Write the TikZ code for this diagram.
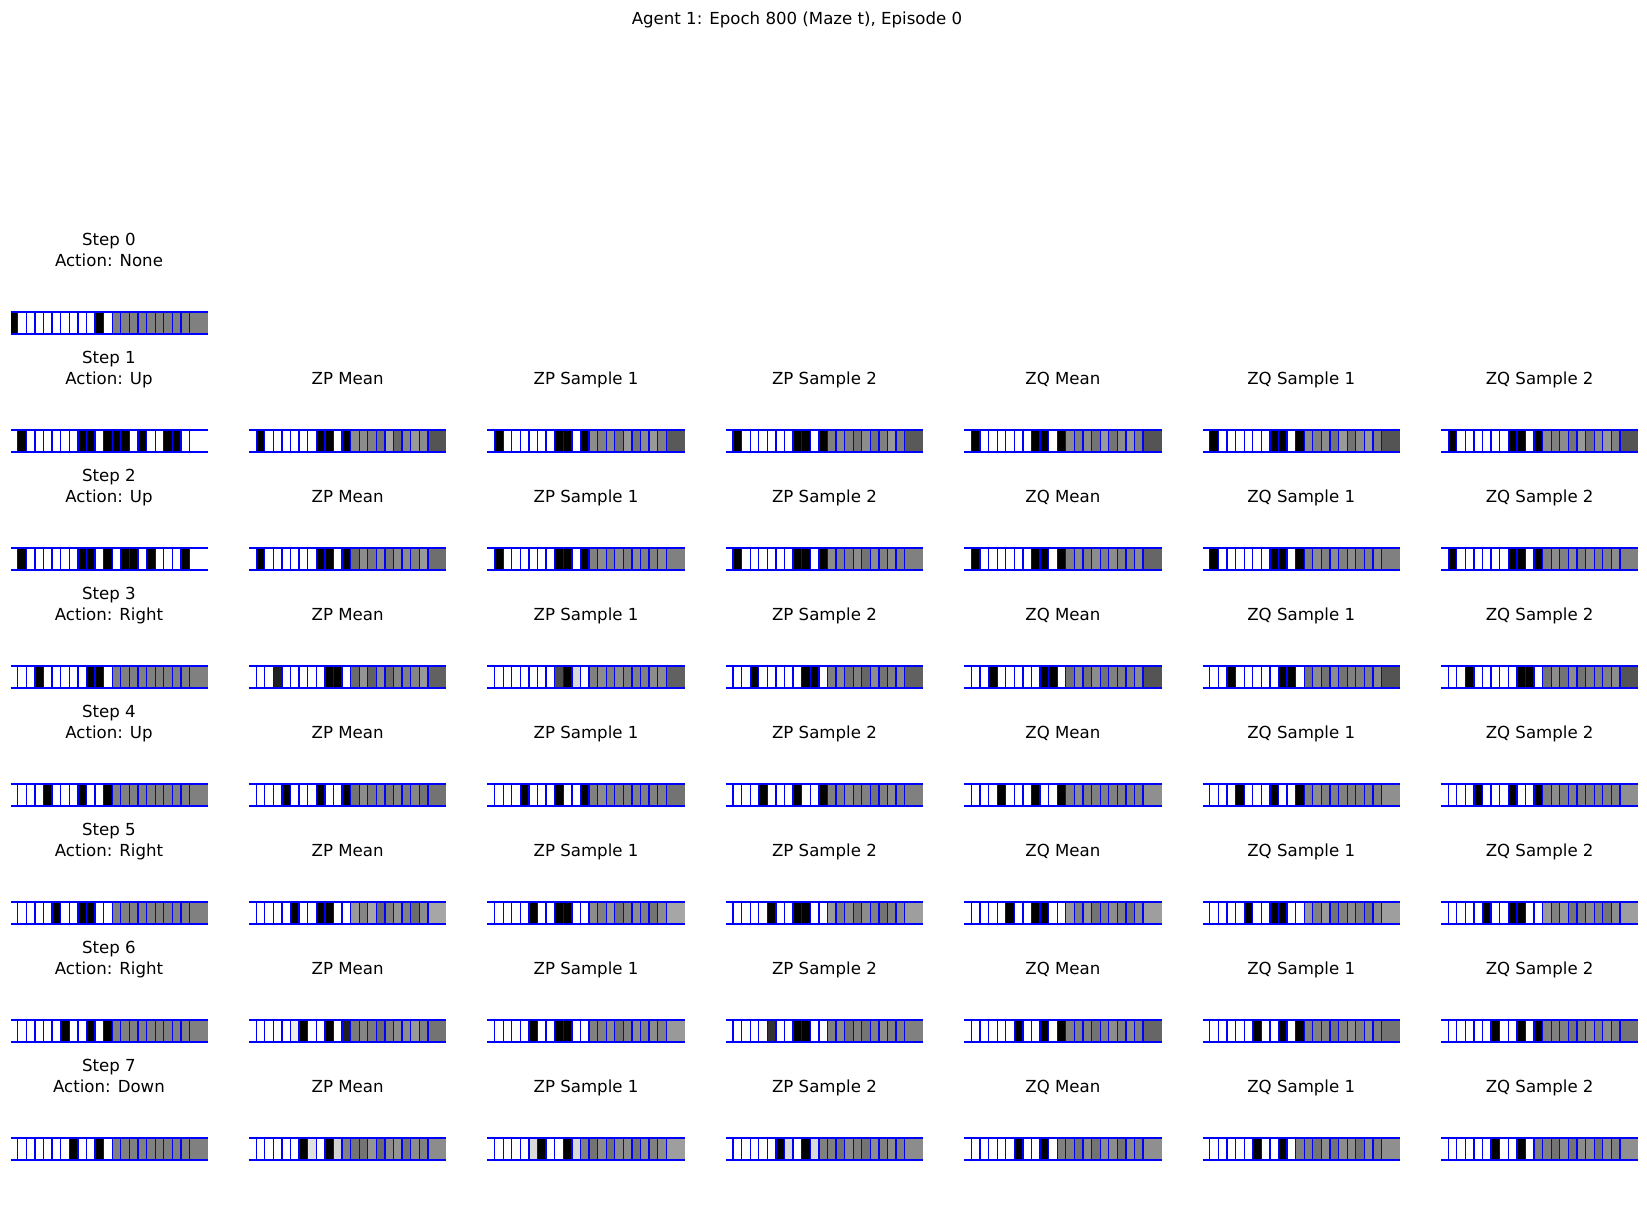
\documentclass[tikz,border=0pt]{standalone}
\usepackage{fontspec}
\setmainfont{DejaVu Sans}
\tikzset{
  ttl/.style={font=\fontsize{16.6}{20}\selectfont, anchor=base, inner sep=0pt},
  gridline/.style={draw=blue, line width=1.3pt},
}
\newcommand{\drawstrip}[3]{%
  \foreach \v [count=\i from 0] in {#3} {
    \pgfmathsetmacro{\xl}{#1 + (\i==0 ? 0 : 7.3+8.585*(\i-1))}
    \pgfmathsetmacro{\xr}{#1 + (\i==21 ? 197.5 : 7.3+8.585*\i)}
    \definecolor{cellc}{gray}{\v}
    \fill[cellc] (\xl,#2) rectangle (\xr,#2+22);
  }
  \foreach \i in {1,...,21} {
    \draw[gridline] ({#1+7.3+8.585*(\i-1)},#2) -- ++(0,22);
  }
  \draw[gridline] (#1,#2) -- ++(197.5,0) (#1,#2+22) -- ++(197.5,0);
}
% column x (left) and row y (top)
\newcommand{\cx}[1]{\fpeval{10.5+238.4*#1}}
\newcommand{\ry}[1]{\fpeval{312+118*#1}}
\newcommand{\st}[3]{\drawstrip{\cx{#1}}{\ry{#2}}{#3}}
\begin{document}
\begin{tikzpicture}[x=1pt,y=-1pt]
\useasboundingbox (0,0) rectangle (1647,1208);
\fill[white] (0,0) rectangle (1647,1208);
\node[ttl] (title) at (797,24) {Agent 1: Epoch 800 (Maze t), Episode 0};
% row titles
\foreach \k/\a in {0/None,1/Up,2/Up,3/Right,4/Up,5/Right,6/Right,7/Down} {
  \node[ttl] (step\k) at (109,{312+118*\k-67}) {Step \k};
  \node[ttl] (act\k) at (109,{312+118*\k-46}) {Action: \a};
}
\foreach \k in {1,...,7} {
  \foreach \j/\t in {1/ZP Mean,2/ZP Sample 1,3/ZP Sample 2,4/ZQ Mean,5/ZQ Sample 1,6/ZQ Sample 2} {
    \node[ttl] (lab\k-\j) at ({10.5+238.4*\j+98.75},{312+118*\k-46}) {\t};
  }
}
% column 0: observations
\st{0}{0}{0,1,1,1,1,1,1,1,1,1,0,1,0.5,0.5,0.5,0.5,0.5,0.5,0.5,0.5,0.5,0.5}
\st{0}{1}{1,0,1,1,1,1,1,1,0,0,1,0,0,0,1,0,1,1,0,0,1,1}
\st{0}{2}{1,0,1,1,1,1,1,1,0,0,1,0,1,0,0,1,0,1,1,1,0,1}
\st{0}{3}{1,1,1,0,1,1,1,1,1,0,0,1,0.5,0.5,0.5,0.5,0.5,0.5,0.5,0.5,0.5,0.5}
\st{0}{4}{1,1,1,1,0,1,1,1,0,1,1,0,0.5,0.5,0.5,0.5,0.5,0.5,0.5,0.5,0.5,0.5}
\st{0}{5}{1,1,1,1,1,0,1,1,0,0,1,1,0.5,0.5,0.5,0.5,0.5,0.5,0.5,0.5,0.5,0.5}
\st{0}{6}{1,1,1,1,1,1,0,1,1,0,1,0,0.5,0.5,0.5,0.5,0.5,0.5,0.5,0.5,0.5,0.5}
\st{0}{7}{1,1,1,1,1,1,1,0,1,1,0,1,0.5,0.5,0.5,0.5,0.5,0.5,0.5,0.5,0.5,0.5}
% column 1: ZP Mean
\st{1}{1}{1,0,1,1,1,1,1,1,0,0,1,0,0.55,0.55,0.5,0.45,0.65,0.4,0.52,0.6,0.55,0.33}
\st{1}{2}{1,0,1,1,1,1,1,1,0,0,1,0,0.42,0.55,0.47,0.55,0.47,0.55,0.55,0.5,0.6,0.43}
\st{1}{3}{1,1,1,0.13,1,1,1,1,1,0,0,1,0.42,0.58,0.38,0.55,0.42,0.52,0.5,0.52,0.6,0.38}
\st{1}{4}{1,1,1,1,0,1,1,1,0,1,1,0,0.45,0.55,0.48,0.52,0.48,0.52,0.48,0.52,0.45,0.45}
\st{1}{5}{1,1,1,1,1,0,1,1,0,0,1,1,0.6,0.52,0.65,0.42,0.5,0.58,0.5,0.42,0.55,0.65}
\st{1}{6}{1,1,1,1,1,0.92,0,1,1,0,1,0.12,0.48,0.52,0.48,0.42,0.5,0.55,0.55,0.6,0.5,0.45}
\st{1}{7}{1,1,1,1,1,1,0,0.88,1,0,0.82,0.5,0.45,0.45,0.58,0.42,0.55,0.58,0.45,0.55,0.5,0.55}
% column 2: ZP Sample 1
\st{2}{1}{1,0,1,1,1,1,1,1,0,0,1,0,0.55,0.5,0.55,0.45,0.6,0.45,0.55,0.6,0.5,0.35}
\st{2}{2}{1,0,1,1,1,1,1,1,0,0,1,0,0.5,0.55,0.5,0.55,0.5,0.55,0.5,0.5,0.55,0.5}
\st{2}{3}{1,1,1,1,1,1,1,1,0.3,0,0.85,1,0.5,0.55,0.5,0.55,0.5,0.5,0.5,0.55,0.55,0.38}
\st{2}{4}{1,1,1,1,0,1,1,1,0,1,1,0,0.5,0.55,0.5,0.5,0.5,0.5,0.5,0.5,0.5,0.45}
\st{2}{5}{1,1,1,1,1,0,1,1,0,0,1,1,0.55,0.5,0.6,0.45,0.5,0.55,0.5,0.45,0.55,0.65}
\st{2}{6}{1,1,1,1,1,0,1,1,0,0,1,1,0.5,0.5,0.55,0.45,0.5,0.55,0.5,0.55,0.5,0.6}
\st{2}{7}{1,1,1,1,1,0.85,0,1,1,0,0.85,0.5,0.45,0.55,0.45,0.55,0.55,0.45,0.55,0.5,0.55,0.62}
% column 3: ZP Sample 2
\st{3}{1}{1,0,1,1,1,1,1,1,0,0,1,0,0.5,0.55,0.5,0.45,0.55,0.45,0.5,0.6,0.5,0.35}
\st{3}{2}{1,0,1,1,1,1,1,1,0,0,1,0,0.55,0.5,0.5,0.55,0.45,0.55,0.5,0.55,0.5,0.5}
\st{3}{3}{1,1,1,0,1,1,1,1,1,0,0,1,0.5,0.55,0.45,0.5,0.4,0.55,0.45,0.5,0.55,0.38}
\st{3}{4}{1,1,1,1,0,1,1,1,0,1,1,0,0.5,0.5,0.55,0.5,0.5,0.45,0.5,0.55,0.5,0.5}
\st{3}{5}{1,1,1,1,1,0,1,1,0,0,1,1,0.6,0.5,0.55,0.45,0.55,0.5,0.45,0.5,0.55,0.62}
\st{3}{6}{1,1,1,1,1,0.2,1,1,0,0,1,1,0.5,0.55,0.45,0.5,0.45,0.5,0.55,0.5,0.5,0.5}
\st{3}{7}{1,1,1,1,1,1,0,0.85,1,0,0.85,0.5,0.5,0.45,0.55,0.5,0.45,0.55,0.5,0.55,0.5,0.55}
% columns 4-6: ZQ Mean, ZQ Sample 1, ZQ Sample 2
\foreach \j/\la/\lb in {4/0.4/0.4,5/0.5/0.45,6/0.5/0.45} {
\st{\j}{1}{1,0,1,1,1,1,1,1,0,0,1,0,0.55,0.5,0.55,0.45,0.6,0.45,0.55,0.6,0.5,0.33}
\st{\j}{2}{1,0,1,1,1,1,1,1,0,0,1,0,0.5,0.55,0.5,0.55,0.5,0.55,0.5,0.5,0.55,\la}
\st{\j}{3}{1,1,1,0,1,1,1,1,1,0,0,1,0.45,0.55,0.45,0.55,0.45,0.5,0.5,0.5,0.55,0.33}
\st{\j}{4}{1,1,1,1,0,1,1,1,0,1,1,0,0.5,0.55,0.5,0.5,0.5,0.5,0.5,0.5,0.5,0.56}
\st{\j}{5}{1,1,1,1,1,0,1,1,0,0,1,1,0.6,0.5,0.6,0.45,0.5,0.55,0.5,0.45,0.55,0.62}
\st{\j}{6}{1,1,1,1,1,1,0,1,1,0,1,0,0.5,0.5,0.5,0.45,0.5,0.55,0.5,0.55,0.5,\lb}
\st{\j}{7}{1,1,1,1,1,1,0,1,1,0,1,0.5,0.5,0.45,0.55,0.45,0.55,0.55,0.45,0.55,0.5,0.56}
}
\end{tikzpicture}
\end{document}
